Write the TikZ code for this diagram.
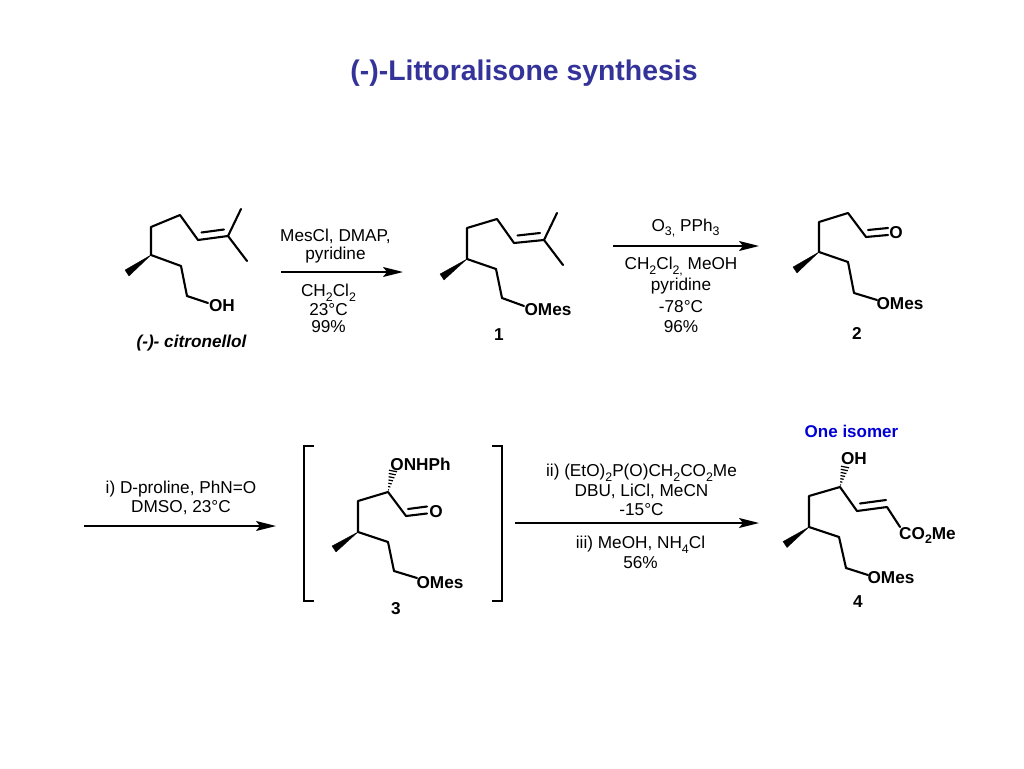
\documentclass[tikz,border=0pt]{standalone}
\usepackage{fontspec}
\setmainfont{Liberation Sans}
\usetikzlibrary{arrows.meta,calc}
\definecolor{titleblue}{RGB}{51,51,153}
\definecolor{isoblue}{RGB}{0,0,214}
\newcommand{\sbs}[1]{\raisebox{-0.28em}{\fontsize{0.72em}{0.72em}\selectfont #1}}
\tikzset{
  bond/.style={line width=2.1pt,line cap=round,line join=round,black},
  wedgebond/.style={fill=black,draw=black,line width=0.3pt},
  rxn/.style={line width=1.7pt,-{Stealth[length=20pt,width=10pt,inset=4pt]}},
  reagent/.style={inner sep=0pt,font=\fontsize{17.2}{17.2}\selectfont,text=black},
  atom/.style={inner sep=0pt,font=\fontsize{17.2}{17.2}\selectfont\bfseries,text=black},
  cpd/.style={inner sep=0pt,font=\fontsize{17.2}{17.2}\selectfont\bfseries,text=black},
  bracket/.style={line width=2pt,line cap=butt,line join=miter,black}
}
\newcommand{\hashb}[4]{%
  \foreach \t/\w in {0.1/0.5,0.25/1.1,0.4/1.7,0.55/2.3,0.7/2.9,0.85/3.5,1.0/4.0}{
    \draw[line width=1.2pt,black]
      ($(#1,#2)!\t!(#3,#4)+(-\w,-0.2*\w)$) -- ($(#1,#2)!\t!(#3,#4)+(\w,0.2*\w)$);
  }}
\begin{document}
\begin{tikzpicture}[x=1pt,y=-1pt]
\path[use as bounding box,fill=white] (0,0) rectangle (1024,768);

\node[inner sep=0pt,text=titleblue,font=\fontsize{28.4}{28.4}\selectfont\bfseries] (title) at (524,73) {(-)-Littoralisone synthesis};

% ---------- citronellol
\fill[wedgebond] (151,255) -- (125,270) -- (129,276) -- cycle;
\draw[bond] (151,255) -- (151,227) -- (180,215) -- (198,240) -- (228,236);
\draw[bond] (201.5,232.5) -- (224,229.5);
\draw[bond] (241,209) -- (228,236) -- (247,261);
\draw[bond] (151,255) -- (181,266) -- (187,296) -- (208,303);
\node[atom] (oh0) at (222,306) {OH};
\node[inner sep=0pt,font=\fontsize{17.2}{17.2}\selectfont\bfseries\itshape] (cit) at (191.5,343.5) {(-)- citronellol};

% ---------- 1
\fill[wedgebond] (467,259) -- (440,274) -- (444,280) -- cycle;
\draw[bond] (467,259) -- (467,228) -- (497,219) -- (514,243) -- (544,240);
\draw[bond] (517.5,235.5) -- (540,233);
\draw[bond] (557,213) -- (544,240) -- (563,265);
\draw[bond] (467,259) -- (496,269) -- (502,298) -- (524,306);
\node[atom] (om1) at (548,310) {OMes};
\node[cpd] (l1) at (499,335) {1};

% ---------- 2
\fill[wedgebond] (819,252) -- (793,267) -- (797,273) -- cycle;
\draw[bond] (819,252) -- (819,222) -- (848,213) -- (866,237) -- (888,235);
\draw[bond] (868,230) -- (888,228);
\draw[bond] (819,252) -- (848,262) -- (854,293) -- (877,300);
\node[atom] (o2) at (896,233) {O};
\node[atom] (om2) at (900,303.5) {OMes};
\node[cpd] (l2) at (857,333.5) {2};

% ---------- 3
\fill[wedgebond] (358,532) -- (332,546) -- (336,552) -- cycle;
\draw[bond] (358,532) -- (358,501) -- (388,492) -- (406,516) -- (427,513.5);
\draw[bond] (408,509) -- (427,506.5);
\draw[bond] (358,532) -- (388,542) -- (394,571) -- (417,578);
\hashb{388}{492}{393}{471}
\node[atom] (on3) at (420.5,464) {ONHPh};
\node[atom] (o3) at (436,512) {O};
\node[atom] (om3) at (440,583) {OMes};
\node[cpd] (l3) at (396,609) {3};
\draw[bracket] (314,446) -- (304,446) -- (304,600.5) -- (314,600.5);
\draw[bracket] (492,446) -- (501.5,446) -- (501.5,600.5) -- (492,600.5);

% ---------- 4
\fill[wedgebond] (809,527) -- (783,541.5) -- (787,547.5) -- cycle;
\draw[bond] (809,527) -- (809,496) -- (840,487) -- (857,511) -- (887,507) -- (900,527);
\draw[bond] (860,503.5) -- (886,500);
\draw[bond] (809,527) -- (839,537) -- (846,568) -- (868,575);
\hashb{840}{487}{845}{467}
\node[atom] (oh4) at (854,459) {OH};
\node[atom] (co4) at (927.5,535.5) {CO\sbs{2}Me};
\node[atom] (om4) at (891,578) {OMes};
\node[cpd] (l4) at (858,602) {4};
\node[inner sep=0pt,text=isoblue,font=\fontsize{17}{17}\selectfont\bfseries] (iso) at (851.5,431) {One isomer};

% ---------- arrows
\coordinate (a1s) at (281,272); \coordinate (a1e) at (403,272);
\coordinate (a2s) at (613,246); \coordinate (a2e) at (759,246);
\coordinate (a3s) at (84,526);  \coordinate (a3e) at (276,526);
\coordinate (a4s) at (515,523); \coordinate (a4e) at (759,523);
\draw[rxn] (a1s) -- (a1e);
\draw[rxn] (a2s) -- (a2e);
\draw[rxn] (a3s) -- (a3e);
\draw[rxn] (a4s) -- (a4e);

% ---------- reagents
\node[reagent] (r1a) at (335.5,236) {MesCl, DMAP,};
\node[reagent] (r1b) at (335.5,255.5) {pyridine};
\node[reagent] (r1c) at (328.5,293) {CH\sbs{2}Cl\sbs{2}};
\node[reagent] (r1d) at (328.5,309.5) {23°C};
\node[reagent] (r1e) at (328.5,326.5) {99\%};

\node[reagent] (r2a) at (685.5,228) {O\sbs{3,} PPh\sbs{3}};
\node[reagent] (r2b) at (681,266.5) {CH\sbs{2}Cl\sbs{2,} MeOH};
\node[reagent] (r2c) at (681,286.5) {pyridine};
\node[reagent] (r2d) at (681,306.5) {-78°C};
\node[reagent] (r2e) at (681,326.5) {96\%};

\node[reagent] (r3a) at (181,489.5) {i) D-proline, PhN=O};
\node[reagent] (r3b) at (181,507.5) {DMSO, 23°C};

\node[reagent] (r4a) at (641.5,473) {ii) (EtO)\sbs{2}P(O)CH\sbs{2}CO\sbs{2}Me};
\node[reagent] (r4b) at (641.5,491.5) {DBU, LiCl, MeCN};
\node[reagent] (r4c) at (641.5,509.5) {-15°C};
\node[reagent] (r4d) at (640.5,545) {iii) MeOH, NH\sbs{4}Cl};
\node[reagent] (r4e) at (640.5,562.5) {56\%};
\end{tikzpicture}
\end{document}
